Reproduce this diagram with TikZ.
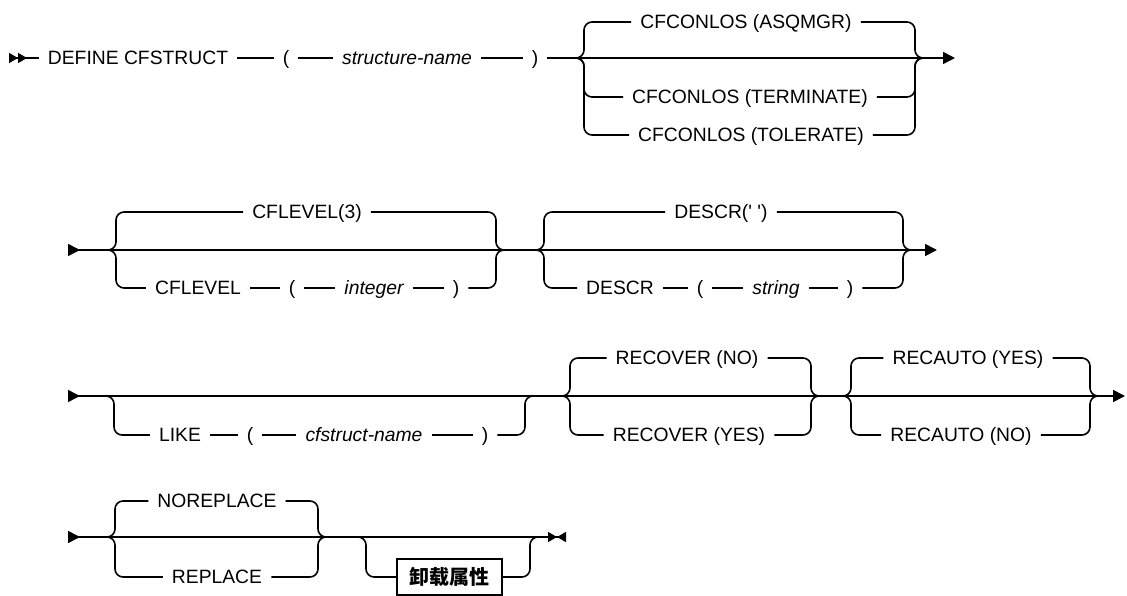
\documentclass[tikz,border=0pt]{standalone}
\usepackage{fontspec}
\setmainfont{Liberation Sans}
\newfontfamily\cjkfont{Noto Sans CJK SC}
\usetikzlibrary{arrows.meta, positioning}

\newcommand{\railfont}{\fontsize{19.3}{23}\selectfont}

\begin{document}
\begin{tikzpicture}[x=1pt, y=-1pt,
    kw/.style={inner xsep=9pt, inner ysep=0pt, text height=13.8pt, text depth=0pt, font=\railfont},
    var/.style={kw, font=\railfont\itshape},
    unload/.style={draw, line width=1.6pt, minimum width=105pt, minimum height=36pt,
                   inner sep=0pt, font=\cjkfont\bfseries\fontsize{20}{24}\selectfont},
    rail/.style={line width=1.6pt},
    fork/.style={rail, rounded corners=8pt},
    first/.style={rail, {Triangle[reversed, length=9pt, width=10pt] Triangle[reversed, length=9pt, width=10pt]}-},
    row/.style={rail, {Triangle[reversed, length=12pt, width=12pt]}-{Triangle[length=12pt, width=12pt]}},
    last/.style={rail, {Triangle[reversed, length=12pt, width=12pt]}-{Triangle[length=9pt, width=10pt] Triangle[reversed, length=9pt, width=10pt]}}
  ]
  \useasboundingbox (0,0) rectangle (1127,596);

  % row 1
  \coordinate (s1) at (9,58);
  \node[kw] (define) at (138,58) {DEFINE CFSTRUCT};
  \node[kw] (lpA) at (286,58) {(};
  \node[var] (sname) at (407,58) {structure-name};
  \node[kw] (rpA) at (535,58) {)};
  \coordinate (jA) at (584,58);
  \coordinate (kA) at (915,58);
  \coordinate (endA) at (955,58);
  \node[kw] (asqmgr) at (746,22) {CFCONLOS (ASQMGR)};
  \node[kw] (terminate) at (750,97) {CFCONLOS (TERMINATE)};
  \node[kw] (tolerate) at (751,135) {CFCONLOS (TOLERATE)};

  \draw[first] (s1) -- (define);
  \draw[rail] (define) -- (lpA) (lpA) -- (sname) (sname) -- (rpA);
  \draw[rail, -{Triangle[length=12pt, width=12pt]}] (rpA) -- (endA);
  \foreach \n in {asqmgr, terminate, tolerate}
    \draw[fork] ([xshift=-8pt]jA) -| (\n.west -| jA) -- (\n)
                (\n) -- (\n.east -| kA) |- ([xshift=8pt]kA);

  % row 2
  \coordinate (s2) at (68,250);
  \coordinate (jB) at (116,250);
  \coordinate (kB) at (496,250);
  \coordinate (jC) at (544,250);
  \coordinate (kC) at (903,250);
  \coordinate (endB) at (937,250);
  \node[kw] (lvldef) at (307,212) {CFLEVEL(3)};
  \node[kw] (cflevel) at (198,288) {CFLEVEL};
  \node[kw] (lpB) at (292,288) {(};
  \node[var] (intg) at (374,288) {integer};
  \node[kw] (rpB) at (456,288) {)};
  \node[kw] (descrdef) at (721,212) {DESCR(\textquotesingle\ \textquotesingle)};
  \node[kw] (descr) at (620,288) {DESCR};
  \node[kw] (lpC) at (700,288) {(};
  \node[var] (strg) at (776,288) {string};
  \node[kw] (rpC) at (850,288) {)};

  \draw[row] (s2) -- (endB);
  \draw[fork] ([xshift=-8pt]jB) -| (lvldef.west -| jB) -- (lvldef)
              (lvldef) -- (lvldef.east -| kB) |- ([xshift=8pt]kB);
  \draw[fork] ([xshift=-8pt]jB) -| (cflevel.west -| jB) -- (cflevel)
              (rpB) -- (rpB.east -| kB) |- ([xshift=8pt]kB);
  \draw[rail] (cflevel) -- (lpB) (lpB) -- (intg) (intg) -- (rpB);
  \draw[fork] ([xshift=-8pt]jC) -| (descrdef.west -| jC) -- (descrdef)
              (descrdef) -- (descrdef.east -| kC) |- ([xshift=8pt]kC);
  \draw[fork] ([xshift=-8pt]jC) -| (descr.west -| jC) -- (descr)
              (rpC) -- (rpC.east -| kC) |- ([xshift=8pt]kC);
  \draw[rail] (descr) -- (lpC) (lpC) -- (strg) (strg) -- (rpC);

  % row 3
  \coordinate (s3) at (68,396);
  \coordinate (jD) at (114,396);
  \coordinate (kD) at (525,396);
  \coordinate (jE) at (570,396);
  \coordinate (kE) at (811,396);
  \coordinate (jF) at (851,396);
  \coordinate (kF) at (1090,396);
  \coordinate (endC) at (1125,396);
  \node[kw] (like) at (180,435) {LIKE};
  \node[kw] (lpD) at (250,435) {(};
  \node[var] (cfname) at (364,435) {cfstruct-name};
  \node[kw] (rpD) at (485,435) {)};
  \node[kw] (recno) at (687,358) {RECOVER (NO)};
  \node[kw] (recyes) at (689,435) {RECOVER (YES)};
  \node[kw] (autoyes) at (968,358) {RECAUTO (YES)};
  \node[kw] (autono) at (961,435) {RECAUTO (NO)};

  \draw[row] (s3) -- (endC);
  \draw[fork] ([xshift=-8pt]jD) -| (like.west -| jD) -- (like)
              (rpD) -- (rpD.east -| kD) |- ([xshift=8pt]kD);
  \draw[rail] (like) -- (lpD) (lpD) -- (cfname) (cfname) -- (rpD);
  \foreach \n in {recno, recyes}
    \draw[fork] ([xshift=-8pt]jE) -| (\n.west -| jE) -- (\n)
                (\n) -- (\n.east -| kE) |- ([xshift=8pt]kE);
  \foreach \n in {autoyes, autono}
    \draw[fork] ([xshift=-8pt]jF) -| (\n.west -| jF) -- (\n)
                (\n) -- (\n.east -| kF) |- ([xshift=8pt]kF);

  % row 4
  \coordinate (s4) at (68,537);
  \coordinate (jG) at (115,537);
  \coordinate (kG) at (318,537);
  \coordinate (jH) at (366,537);
  \coordinate (kH) at (530,537);
  \coordinate (endD) at (566,537);
  \node[kw] (norepl) at (217,501) {NOREPLACE};
  \node[kw] (repl) at (217,577) {REPLACE};
  \node[unload] (attrs) at (449.5,577) {卸载属性};

  \draw[last] (s4) -- (endD);
  \foreach \n in {norepl, repl}
    \draw[fork] ([xshift=-8pt]jG) -| (\n.west -| jG) -- (\n)
                (\n) -- (\n.east -| kG) |- ([xshift=8pt]kG);
  \draw[fork] ([xshift=-8pt]jH) -| (attrs.west -| jH) -- (attrs)
              (attrs) -- (attrs.east -| kH) |- ([xshift=8pt]kH);
\end{tikzpicture}
\end{document}
